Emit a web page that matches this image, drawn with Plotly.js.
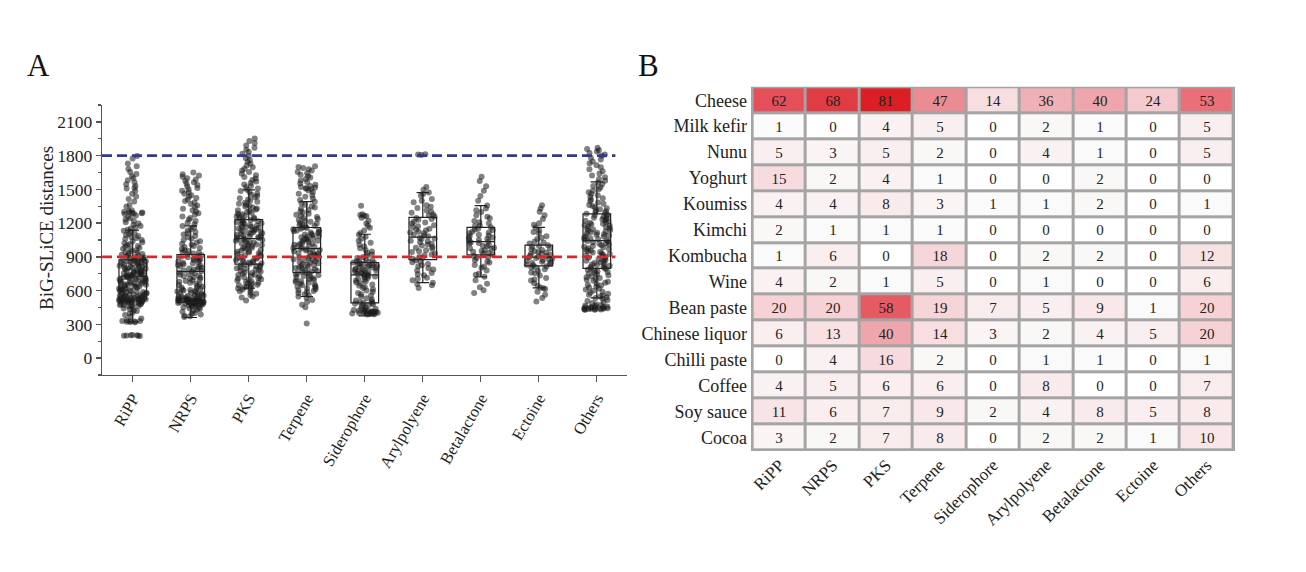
<!DOCTYPE html>
<html>
<head>
<meta charset="utf-8">
<script src="https://cdn.plot.ly/plotly-3.0.1.min.js"></script>
<style>
  html, body { margin: 0; padding: 0; background: #ffffff; }
  #chart { width: 1306px; height: 572px; }
</style>
</head>
<body>
<div id="chart"></div>
<script>
// ---------- Panel A data ----------
var clusterTypes = ["RiPP", "NRPS", "PKS", "Terpene", "Siderophore", "Arylpolyene", "Betalactone", "Ectoine", "Others"];

// box statistics
var boxQ1     = [524, 495, 835, 761, 491, 876, 918, 820, 797];
var boxMedian = [728, 770, 1063, 974, 740, 1075, 1036, 897, 1045];
var boxQ3     = [873, 921, 1232, 1161, 850, 1252, 1163, 1004, 1282];
var boxLower  = [323, 361, 622, 548, 376, 672, 722, 624, 536];
var boxUpper  = [1137, 1175, 1495, 1392, 1101, 1471, 1356, 1163, 1566];

// individual distances (estimated from the point clouds)
var distRiPP = [196,198,201,203,206,318,321,324,327,331,336,352,368,383,397,405,418,426,437,441,452,459,466,473,478,484,489,493,497,501,505,508,511,514,517,519,521,523,526,529,533,538,544,549,556,562,569,575,581,588,596,603,611,618,626,634,641,649,657,664,671,678,684,692,699,706,712,718,723,729,735,741,748,755,762,769,776,783,790,798,806,813,821,829,836,844,851,859,866,872,879,887,896,904,913,925,938,951,966,982,997,1013,1031,1049,1068,1086,1104,1123,1142,1163,1185,1208,1232,1256,1281,1288,1294,1307,1348,1392,1437,1486,1512,1529,1563,1598,1636,1682,1731,1774,1797,
  463,471,482,495,499,503,507,509,513,516,518,522,527,531,536,541,547,552,558,564,571,577,584,592,599,607,614,622,630,638,645,653,661,668,675,681,688,695,702,709,715,721,726,732,738,744,751,758,765,772,779,786,794,802,809,817,825,833,840,848,855,862,869,876,883,891,900,909,919,931,944,958,973,989,1005,1022,1040,1058,1077,1095,1114,1133,1152,1174,1196,1220,1244,1268,1285,1291,1297,1302,1315,1362,1415,1461,1508,1545,1581,1617,1655,1705,199,204,325,329];
var distNRPS = [365,372,388,402,421,436,448,459,468,474,479,483,487,490,493,496,498,500,502,504,506,508,510,512,515,518,521,524,528,533,539,546,553,561,570,579,588,597,605,616,628,642,657,671,686,700,714,727,741,755,768,779,791,803,816,828,841,853,866,878,890,902,915,929,944,960,978,997,1017,1039,1062,1086,1110,1135,1161,1189,1218,1246,1275,1301,1328,1356,1383,1410,1436,1461,1487,1512,1538,1563,1588,1612,1634,1649,
  376,395,412,429,442,453,463,471,476,481,485,489,492,495,497,499,501,503,505,507,509,511,513,516,519,522,526,530,536,542,549,557,565,574,583,592,601,610,622,635,649,664,678,693,707,720,734,748,761,774,785,797,809,822,834,847,860,872,884,896,908,922,936,952,969,987,1007,1028,1050,1074,1098,1122,1148,1175,1203,1232,1260,1288,1314,1342,1369,1396,1423,1448,1474,1499,1525,1550,1575,1600,1623];
var distPKS = [512,538,561,584,603,618,629,641,652,664,676,689,701,713,726,738,751,763,776,788,799,811,822,833,844,855,866,877,889,901,914,926,939,951,963,976,988,999,1010,1021,1032,1043,1054,1063,1072,1082,1091,1101,1110,1120,1129,1139,1148,1158,1168,1178,1189,1200,1211,1222,1233,1245,1258,1271,1285,1299,1314,1330,1347,1364,1382,1401,1421,1442,1463,1485,1507,1531,1556,1583,1611,1640,1668,1697,1728,1762,1798,1834,1871,1912,1952,
  548,572,594,611,624,635,647,658,670,682,695,707,719,732,744,757,769,782,794,805,816,827,838,849,860,871,883,895,907,920,932,945,957,969,982,994,1005,1016,1027,1038,1049,1058,1067,1077,1086,1096,1105,1115,1124,1134,1143,1153,1163,1173,1183,1194,1205,1216,1227,1239,1251,1264,1278,1292,1306,1322,1338,1355,1373,1391,1411,1431,1452,1474,1496,1519,1543,1569,1597,1625,1654,1683,1712,1745,1780,1816,1852,1890,1931];
var distTerpene = [308,452,498,536,557,578,596,612,627,641,655,669,683,697,711,724,737,749,760,771,783,795,807,819,831,843,855,867,879,891,903,915,927,939,951,962,973,984,996,1008,1020,1032,1044,1056,1068,1080,1092,1104,1116,1128,1140,1151,1162,1175,1189,1204,1220,1237,1255,1274,1294,1316,1339,1364,1391,1420,1448,1476,1502,1511,1522,1541,1566,1592,1618,1643,1667,1690,1706,
  475,517,547,568,587,604,620,634,648,662,676,690,704,717,730,743,755,766,777,789,801,813,825,837,849,861,873,885,897,909,921,933,945,957,968,979,990,1002,1014,1026,1038,1050,1062,1074,1086,1098,1110,1122,1134,1146,1157,1168,1182,1196,1212,1228,1246,1264,1284,1305,1327,1351,1377,1405,1434,1462,1489,1507,1516,1531,1553,1579,1605,1630,1655,1679,1699];
var distSiderophore = [388,392,396,399,403,406,410,414,418,423,431,445,462,478,489,497,512,533,556,578,601,623,644,663,681,697,712,725,737,746,755,764,773,782,791,800,810,819,828,837,846,855,866,881,899,921,947,976,1008,1043,1079,1112,1158,1196,1247,1266,1279,1354,
  390,394,398,401,405,408,412,416,421,427,438,453,470,484,493,505,522,545,567,590,612,633,654,672,689,705,718,731,741,750,759,768,777,786,795,805,814,823,832,841,850,860,873,890,910,934,961,992,1025,1061,1096,1135,1177,1221,1262,1272];
var distArylpolyene = [624,648,671,693,714,736,757,778,798,817,836,853,869,884,899,914,929,944,959,973,988,1002,1016,1030,1044,1058,1071,1084,1097,1110,1123,1137,1151,1166,1181,1197,1213,1229,1245,1260,1276,1293,1312,1334,1358,1385,1414,1444,1472,1497,1522,1806,1810,1813,
  660,705,745,788,826,861,892,921,951,981,1009,1037,1064,1090,1116,1144,1173,1205,1237,1268,1301,1346,1399,1458];
var distBetalactone = [578,604,631,661,693,724,752,779,804,828,850,871,891,907,921,934,946,958,970,982,994,1006,1018,1029,1040,1051,1062,1073,1085,1097,1110,1124,1138,1151,1164,1180,1198,1219,1243,1270,1299,1330,1357,1398,1441,1487,1528,1575,1612,
  742,815,860,899,927,952,976,1000,1023,1046,1068,1091,1117,1144,1172,1208,1256,1314];
var distEctoine = [504,534,563,591,615,627,643,665,689,712,734,755,774,791,806,817,826,836,846,856,866,876,886,895,903,911,920,929,939,950,962,975,990,1003,1018,1037,1059,1083,1109,1136,1162,1198,1236,1271,1302,1331,1358,
  622,700,762,811,831,851,871,891,907,925,944,968,996,1027,1071,1122,1185];
var distOthers = [429,432,435,438,441,444,448,452,457,463,472,489,508,527,541,556,573,591,609,627,645,662,679,696,712,728,744,759,773,786,797,809,821,833,846,859,872,886,899,912,925,938,951,964,977,990,1003,1016,1029,1042,1054,1066,1078,1090,1102,1114,1126,1138,1150,1163,1176,1189,1202,1215,1228,1241,1255,1269,1283,1298,1315,1333,1352,1373,1396,1421,1447,1474,1502,1531,1561,1592,1624,1661,1697,1732,1765,1798,1824,1847,1869,
  430,433,436,439,442,446,450,455,460,467,480,498,517,534,548,564,582,600,618,636,653,670,687,704,720,736,751,766,780,792,803,815,827,839,852,865,879,892,905,918,931,944,957,970,983,996,1009,1022,1035,1048,1060,1072,1084,1096,1108,1120,1132,1144,1156,1169,1182,1195,1208,1221,1234,1248,1262,1276,1290,1306,1324,1342,1362,1384,1408,1434,1460,1488,1516,1546,1576,1608,1642,1679,1714,1748,1781,1811,1836,1858];

var thresholdValues = [1800, 900];

// ---------- Panel B data ----------
var foods = ["Cheese", "Milk kefir", "Nunu", "Yoghurt", "Koumiss", "Kimchi", "Kombucha", "Wine",
             "Bean paste", "Chinese liquor", "Chilli paste", "Coffee", "Soy sauce", "Cocoa"];
var counts = [
  [62, 68, 81, 47, 14, 36, 40, 24, 53],
  [1, 0, 4, 5, 0, 2, 1, 0, 5],
  [5, 3, 5, 2, 0, 4, 1, 0, 5],
  [15, 2, 4, 1, 0, 0, 2, 0, 0],
  [4, 4, 8, 3, 1, 1, 2, 0, 1],
  [2, 1, 1, 1, 0, 0, 0, 0, 0],
  [1, 6, 0, 18, 0, 2, 2, 0, 12],
  [4, 2, 1, 5, 0, 1, 0, 0, 6],
  [20, 20, 58, 19, 7, 5, 9, 1, 20],
  [6, 13, 40, 14, 3, 2, 4, 5, 20],
  [0, 4, 16, 2, 0, 1, 1, 0, 1],
  [4, 5, 6, 6, 0, 8, 0, 0, 7],
  [11, 6, 7, 9, 2, 4, 8, 5, 8],
  [3, 2, 7, 8, 0, 2, 2, 1, 10]
];

// ---------- build ----------
var W = 1306, H = 572;
var serif = "Liberation Serif, Times New Roman, serif";

var allDists = [distRiPP, distNRPS, distPKS, distTerpene, distSiderophore,
                distArylpolyene, distBetalactone, distEctoine, distOthers];
var ptX = [], ptY = [];
allDists.forEach(function (arr, i) {
  arr.forEach(function (v) { ptX.push(clusterTypes[i]); ptY.push(v); });
});

var pointsTrace = {
  type: "box", x: ptX, y: ptY, xaxis: "x", yaxis: "y",
  boxpoints: "all", jitter: 1, pointpos: 0,
  marker: { size: 6, color: "rgba(25,25,25,0.55)", line: { width: 0 } },
  line: { width: 0, color: "rgba(0,0,0,0)" },
  fillcolor: "rgba(0,0,0,0)",
  hoveron: "points", showlegend: false
};

var statsTrace = {
  type: "box", x: clusterTypes, xaxis: "x", yaxis: "y",
  q1: boxQ1, median: boxMedian, q3: boxQ3,
  lowerfence: boxLower, upperfence: boxUpper,
  boxpoints: false, whiskerwidth: 0.45,
  line: { color: "#222", width: 1.2 },
  fillcolor: "rgba(0,0,0,0)", showlegend: false
};

var heat = {
  type: "heatmap", xaxis: "x2", yaxis: "y2",
  x: clusterTypes, y: foods, z: counts,
  zmin: 0, zmax: 81, showscale: false, xgap: 3, ygap: 3,
  colorscale: [
    [0, "#ffffff"], [0.012, "#fafafa"], [0.05, "#faf1f2"], [0.1, "#f9eaeb"],
    [0.2, "#f7dadd"], [0.3, "#f5c9ce"], [0.45, "#f0afb4"], [0.5, "#eea5ab"],
    [0.58, "#eb8c93"], [0.655, "#e96f78"], [0.716, "#e65a63"], [0.765, "#e44f59"],
    [0.84, "#e13b43"], [1, "#dc1f24"]
  ],
  texttemplate: "%{z}",
  textfont: { family: serif, size: 15, color: "#222" },
  hoverinfo: "skip"
};

var shapes = [];
var dashColors = ["#2f3b8f", "#d62a2a"];
thresholdValues.forEach(function (v, i) {
  shapes.push({ type: "line", xref: "x", yref: "y", x0: -0.53, x1: 8.32, y0: v, y1: v,
                line: { color: dashColors[i], width: 2.8, dash: "10px,5px" }, layer: "above" });
});
shapes.push({ type: "rect", xref: "x2", yref: "y2", x0: -0.53, x1: 8.53, y0: -0.53, y1: 13.53,
              fillcolor: "#a4a4a4", line: { width: 0 }, layer: "below" });

var layout = {
  width: W, height: H,
  margin: { l: 0, r: 0, t: 0, b: 0 },
  paper_bgcolor: "#ffffff", plot_bgcolor: "#ffffff",
  font: { family: serif, size: 16, color: "#222" },
  showlegend: false,
  boxmode: "overlay", boxgap: 0.32,
  xaxis: {
    domain: [102 / W, 627 / W], anchor: "y",
    range: [-0.53, 8.52], showline: true, linecolor: "#555", linewidth: 1.3,
    ticks: "outside", ticklen: 6, tickcolor: "#555", tickwidth: 1.3,
    tickangle: -60, tickfont: { size: 16.5 }, showgrid: false, zeroline: false
  },
  yaxis: {
    domain: [1 - 375 / H, 1 - 105 / H], anchor: "x",
    range: [-150, 2250], tickvals: [0, 300, 600, 900, 1200, 1500, 1800, 2100],
    showline: true, linecolor: "#555", linewidth: 1.3,
    ticks: "outside", ticklen: 5, tickcolor: "#555", tickwidth: 1.3,
    minor: { tickvals: [-150, 150, 450, 750, 1050, 1350, 1650, 1950, 2250], ticks: "outside", ticklen: 3, tickcolor: "#555", tickwidth: 1.2 },
    tickfont: { size: 17.5 }, showgrid: false, zeroline: false
  },
  xaxis2: {
    domain: [751 / W, 1235 / W], anchor: "y2",
    range: [-0.53, 8.53], showline: false, ticks: "", showgrid: false, zeroline: false,
    tickangle: -45, tickfont: { size: 17 }
  },
  yaxis2: {
    domain: [1 - 451 / H, 1 - 86.5 / H], anchor: "x2",
    range: [13.53, -0.53], showline: false, ticks: "", showgrid: false, zeroline: false,
    tickfont: { size: 18 }, ticklabelstandoff: 3
  },
  shapes: shapes,
  annotations: [
    { text: "A", xref: "paper", yref: "paper", x: 38 / W, y: 1 - 65 / H, showarrow: false,
      font: { size: 31, family: serif, color: "#111" }, xanchor: "center", yanchor: "middle" },
    { text: "B", xref: "paper", yref: "paper", x: 648 / W, y: 1 - 65 / H, showarrow: false,
      font: { size: 31, family: serif, color: "#111" }, xanchor: "center", yanchor: "middle" },
    { text: "BiG-SLiCE distances", xref: "paper", yref: "paper", x: 47 / W, y: 1 - 228 / H,
      textangle: -90, showarrow: false, font: { size: 19, family: serif, color: "#222" },
      xanchor: "center", yanchor: "middle" }
  ]
};

Plotly.newPlot("chart", [pointsTrace, statsTrace, heat], layout, { staticPlot: true, displayModeBar: false });
</script>
</body>
</html>
